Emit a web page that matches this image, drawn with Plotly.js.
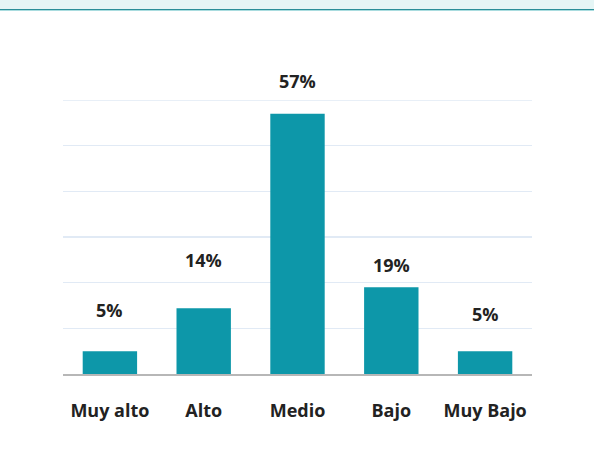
<!DOCTYPE html>
<html><head><meta charset="utf-8">
<script src="https://cdn.plot.ly/plotly-3.0.1.min.js"></script>
<style>
html,body{margin:0;padding:0;background:#fff;}
#wrap{position:relative;width:594px;height:455px;overflow:hidden;}
#band{position:absolute;left:0;top:0;width:594px;height:9px;background:#e5f5f5;border-bottom:1px solid #2a8e98;box-shadow:0 1px 0 #a9dcdf;z-index:2;}
#chart{position:absolute;left:0;top:0;width:594px;height:455px;}
</style></head>
<body><div id="wrap"><div id="band"></div><div id="chart"></div></div>
<script>
const categories = ["Muy alto", "Alto", "Medio", "Bajo", "Muy Bajo"];
const values = [5, 14.4, 57, 19, 5];
const labels = ["5%", "14%", "57%", "19%", "5%"];
const labelY = [13.5, 24.6, 63.7, 23.5, 12.8];

const plotH = 455 - 100 - 81;
const pxPerUnit = plotH / 60;
const annotations = categories.map((c, i) => ({
  x: c, y: values[i], xref: 'x', yref: 'y', text: labels[i], showarrow: false,
  yshift: (labelY[i] - values[i]) * pxPerUnit + 2,
  font: {family: 'Open Sans', size: 18, color: '#222222', weight: 700}
}));

Plotly.newPlot('chart', [{
  type: 'bar', x: categories, y: values,
  marker: {color: '#0d97a9'}, hoverinfo: 'none', cliponaxis: false
}], {
  width: 594, height: 455,
  margin: {l: 63, r: 62, t: 100, b: 81},
  paper_bgcolor: '#ffffff', plot_bgcolor: '#ffffff',
  bargap: 0.42, showlegend: false,
  xaxis: {showline: true, linecolor: '#b7b7b7', linewidth: 1.5, ticks: '',
    tickfont: {family: 'Open Sans', size: 18, color: '#222222', weight: 700},
    ticklabelstandoff: 20, fixedrange: true},
  yaxis: {range: [0, 60], dtick: 10, showticklabels: false, gridcolor: '#e1eaf5',
    gridwidth: 1.3, zeroline: false, fixedrange: true},
  shapes: [{type: 'line', xref: 'paper', yref: 'y', x0: 0, x1: 1, y0: 60, y1: 60,
    line: {color: '#e1eaf5', width: 1.3}, layer: 'below'}],
  annotations: annotations
}, {displayModeBar: false, staticPlot: true});
</script></body></html>
